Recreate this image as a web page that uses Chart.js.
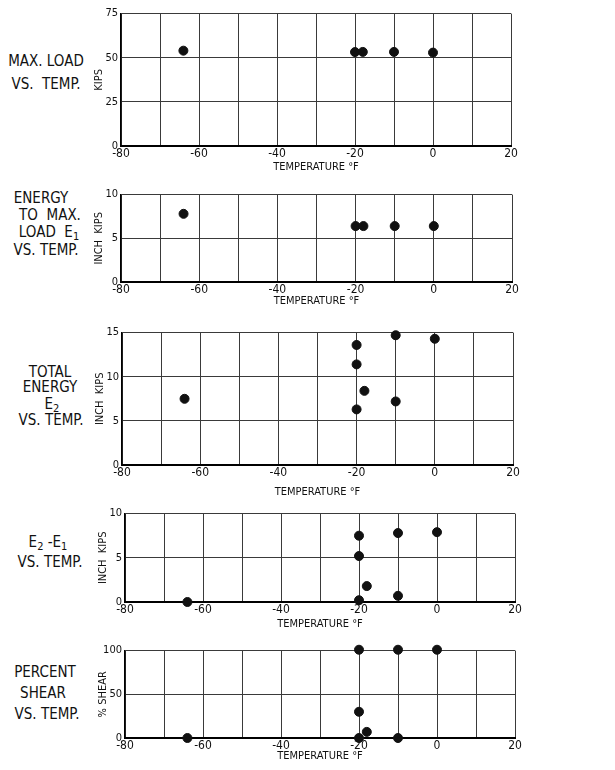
<!DOCTYPE html>
<html>
<head>
<meta charset="utf-8">
<script src="https://cdn.jsdelivr.net/npm/chart.js@4"></script>
<style>
  body { margin: 0; background: #fff; }
  #page { position: relative; width: 615px; height: 770px; overflow: hidden; }
  canvas { position: absolute; }
  .side {
    position: absolute; left: 0; width: 92px; text-align: center;
    font: 15px "DejaVu Sans Condensed", "Liberation Sans Narrow", sans-serif;
    color: #111; line-height: 16px; margin-top: -8px; white-space: nowrap;
  }
  .side sub { font-size: 11px; vertical-align: -3px; line-height: 0; }
</style>
</head>
<body>
<div id="page">
  <div class="side" style="top:61px">MAX. LOAD</div>
  <div class="side" style="top:84px">VS.&nbsp; TEMP.</div>

  <div class="side" style="top:198px;left:-5px">ENERGY</div>
  <div class="side" style="top:215px;left:4px">TO&nbsp; MAX.</div>
  <div class="side" style="top:232px;left:3px">LOAD&nbsp; E<sub>1</sub></div>
  <div class="side" style="top:250px">VS. TEMP.</div>

  <div class="side" style="top:372px;left:4px">TOTAL</div>
  <div class="side" style="top:387px;left:4px">ENERGY</div>
  <div class="side" style="top:404px;left:6px">E<sub>2</sub></div>
  <div class="side" style="top:420px;left:5px">VS. TEMP.</div>

  <div class="side" style="top:542px;left:2px">E<sub>2</sub> -E<sub>1</sub></div>
  <div class="side" style="top:562px;left:4px">VS. TEMP.</div>

  <div class="side" style="top:672px;left:-1px">PERCENT</div>
  <div class="side" style="top:693px;left:-3px">SHEAR</div>
  <div class="side" style="top:714px;left:1px">VS. TEMP.</div>

  <canvas id="loadChart"></canvas>
  <canvas id="e1Chart"></canvas>
  <canvas id="e2Chart"></canvas>
  <canvas id="diffChart"></canvas>
  <canvas id="shearChart"></canvas>
</div>
<script>
// temperature axis (deg F)
const tempMin = -80;
const tempMax = 20;
const tempLabels = [-80, -60, -40, -20, 0, 20];

// max load, kips
const loadTemps = [-64, -20, -18, -10, 0];
const loadKips = [54, 53.2, 53.3, 53.3, 52.9];

// energy to max load E1, inch kips
const e1Temps = [-64, -20, -18, -10, 0];
const e1Values = [7.8, 6.4, 6.4, 6.4, 6.4];

// total energy E2, inch kips
const e2Temps = [-64, -20, -20, -20, -18, -10, -10, 0];
const e2Values = [7.5, 13.6, 11.4, 6.3, 8.4, 14.7, 7.2, 14.3];

// E2 - E1, inch kips
const diffTemps = [-64, -20, -20, -20, -18, -10, -10, 0];
const diffValues = [0, 7.5, 5.2, 0.2, 1.8, 7.8, 0.7, 7.9];

// percent shear
const shearTemps = [-64, -20, -20, -20, -18, -10, -10, 0];
const shearValues = [0, 101, 30, 0, 7, 101, 0, 101];

const FONT = '"DejaVu Sans Condensed", "Liberation Sans Narrow", sans-serif';
const INK = "#111";

function toPoints(temps, values) {
  return temps.map((t, i) => ({ x: t, y: values[i] }));
}

// box: plot area edges in page pixels, titleY = centre of the x axis title
function renderPanel(id, box, temps, values, yMax, yStep, yTitle) {
  const canvas = document.getElementById(id);
  const yAxisW = 31;
  const padTop = 8;
  const padRight = 14;
  const xAxisH = box.titleY + 8 - box.bottom;

  canvas.width = box.right - box.left + yAxisW + padRight;
  canvas.height = box.bottom - box.top + padTop + xAxisH;
  canvas.style.left = (box.left - yAxisW) + "px";
  canvas.style.top = (box.top - padTop) + "px";

  new Chart(canvas.getContext("2d"), {
    type: "scatter",
    data: {
      datasets: [
        {
          data: toPoints(temps, values),
          backgroundColor: INK,
          borderColor: INK,
          pointRadius: 4.5,
          pointHoverRadius: 4.5,
          clip: false
        }
      ]
    },
    options: {
      responsive: false,
      animation: false,
      events: [],
      layout: { padding: { top: padTop, right: padRight, left: 0, bottom: 0 } },
      plugins: { legend: { display: false }, tooltip: { enabled: false } },
      scales: {
        x: {
          type: "linear",
          min: tempMin,
          max: tempMax,
          afterFit: (scale) => { scale.height = xAxisH; },
          ticks: {
            stepSize: 10,
            padding: 1,
            color: INK,
            maxRotation: 0,
            autoSkip: false,
            font: { family: FONT, size: 12 },
            callback: (v) => (tempLabels.includes(v) ? String(v) : "")
          },
          grid: { color: "#3a3a3a", lineWidth: 1, drawTicks: false },
          border: { color: "#000", width: 2 },
          title: {
            display: true,
            text: "TEMPERATURE °F",
            color: INK,
            font: { family: FONT, size: 11 },
            padding: { top: 1.4, bottom: 0 }
          }
        },
        y: {
          min: 0,
          max: yMax,
          afterFit: (scale) => { scale.width = yAxisW; },
          ticks: {
            stepSize: yStep,
            padding: 3,
            color: INK,
            font: { family: FONT, size: 11 }
          },
          grid: { color: "#3a3a3a", lineWidth: 1, drawTicks: false },
          border: { color: "#000", width: 1.5 },
          title: {
            display: true,
            text: yTitle,
            color: INK,
            font: { family: FONT, size: 11 },
            padding: { top: 3, bottom: 0 }
          }
        }
      }
    }
  });
}

renderPanel("loadChart", { left: 121, right: 511, top: 12, bottom: 146, titleY: 166 },
  loadTemps, loadKips, 75, 25, "KIPS");
renderPanel("e1Chart", { left: 121, right: 512, top: 193, bottom: 282, titleY: 300 },
  e1Temps, e1Values, 10, 5, "INCH  KIPS");
renderPanel("e2Chart", { left: 122, right: 513, top: 331, bottom: 465, titleY: 491 },
  e2Temps, e2Values, 15, 5, "INCH  KIPS");
renderPanel("diffChart", { left: 125, right: 515, top: 512, bottom: 602, titleY: 623 },
  diffTemps, diffValues, 10, 5, "INCH  KIPS");
renderPanel("shearChart", { left: 125, right: 515, top: 649, bottom: 738, titleY: 755 },
  shearTemps, shearValues, 100, 50, "% SHEAR");
</script>
</body>
</html>
